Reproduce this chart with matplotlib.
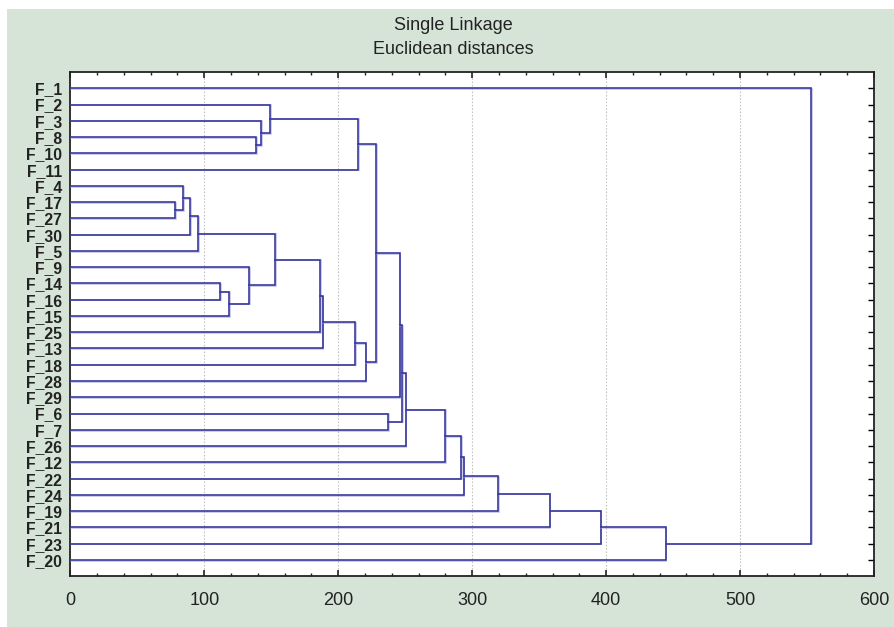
import matplotlib
matplotlib.use("Agg")
import matplotlib.pyplot as plt
import matplotlib.patheffects as pe
from matplotlib.patches import Rectangle
from matplotlib.ticker import MultipleLocator

plt.rcParams['font.family'] = ['Liberation Sans', 'DejaVu Sans']

# leaf order (top to bottom)
leaves = ["F_1", "F_2", "F_3", "F_8", "F_10", "F_11", "F_4", "F_17", "F_27", "F_30",
          "F_5", "F_9", "F_14", "F_16", "F_15", "F_25", "F_13", "F_18", "F_28", "F_29",
          "F_6", "F_7", "F_26", "F_12", "F_22", "F_24", "F_19", "F_21", "F_23", "F_20"]

# merges: left child, right child, linkage distance, new cluster name
merge_left = ["F_8", "F_3", "F_2", "C", "F_17", "F_4", "G", "H", "F_14", "J",
              "F_9", "I", "M", "N", "O", "P", "D", "R", "F_6", "S",
              "U", "V", "W", "X", "Y", "Z", "AA", "AB", "F_1"]
merge_right = ["F_10", "A", "B", "F_11", "F_27", "E", "F_30", "F_5", "F_16", "F_15",
               "K", "L", "F_25", "F_13", "F_18", "F_28", "Q", "F_29", "F_7", "T",
               "F_26", "F_12", "F_22", "F_24", "F_19", "F_21", "F_23", "F_20", "AC"]
merge_height = [138.5, 142.5, 149.2, 214.7, 78.2, 84.2, 89.7, 95.2, 112.1, 118.6,
                133.3, 152.7, 186.5, 188.5, 212.5, 220.4, 228.1, 245.8, 237.1, 247.8,
                250.3, 280.0, 291.9, 293.6, 319.6, 357.9, 396.0, 444.5, 552.9]
merge_name = ["A", "B", "C", "D", "E", "G", "H", "I", "J", "K",
              "L", "M", "N", "O", "P", "Q", "R", "S", "T", "U",
              "V", "W", "X", "Y", "Z", "AA", "AB", "AC", "ROOT"]

title_lines = ["Single Linkage", "Euclidean distances"]
x_ticks = [0, 100, 200, 300, 400, 500, 600]

W, H = 894, 627
fig = plt.figure(figsize=(W / 100, H / 100), dpi=100)
fig.patch.set_facecolor("white")
bg = "#d6e4d8"
fig.patches.append(Rectangle((7 / W, 0), 1 - 7 / W, 1 - 9 / H, transform=fig.transFigure,
                             facecolor=bg, edgecolor="none", zorder=-10))

ax = fig.add_axes([70.3 / W, 1 - 575.7 / H, 803.7 / W, 503.7 / H])
ax.set_zorder(1)
ax.set_facecolor("white")

pos = {name: i for i, name in enumerate(leaves)}
hgt = {name: 0.0 for name in leaves}
line_color = "#33339a"
effects = [pe.SimpleLineShadow(offset=(0.5, -0.5), shadow_color="#9a9ad6", alpha=0.6),
           pe.Normal()]
for l, r, h, n in zip(merge_left, merge_right, merge_height, merge_name):
    yl, yr = pos[l], pos[r]
    ax.plot([hgt[l], h, h, hgt[r]], [yl, yl, yr, yr], color=line_color, lw=1.15,
            solid_joinstyle="miter", path_effects=effects, zorder=3)
    pos[n] = (yl + yr) / 2
    hgt[n] = h

ax.set_xlim(0, 600)
ax.set_ylim(29.97, -1.0)
ax.set_yticks(range(len(leaves)))
ax.set_yticklabels(leaves, fontweight="bold", fontsize=11.3, color="#222222")
ax.set_xticks(x_ticks)
ax.set_xticklabels([str(v) for v in x_ticks], fontsize=13, color="#222222")
ax.xaxis.set_minor_locator(MultipleLocator(20))
ax.tick_params(axis="x", which="major", direction="in", length=4, width=1.2,
               top=True, bottom=True, pad=12, colors="#222222")
ax.tick_params(axis="x", which="minor", direction="in", length=2, width=1,
               top=True, bottom=True, colors="#222222")
ax.tick_params(axis="y", which="major", direction="in", length=4, width=1,
               left=False, right=True, pad=6)
for s in ax.spines.values():
    s.set_color("#222222")
    s.set_linewidth(1.3)

for v in x_ticks[1:-1]:
    ax.axvline(v, color="#c4c4c4", lw=0.8, ls=(0, (1.5, 1.5)), zorder=1)

fig.text(453 / W, 1 - 25.5 / H, title_lines[0], ha="center", va="center", fontsize=13, color="#222222")
fig.text(453 / W, 1 - 50 / H, title_lines[1], ha="center", va="center", fontsize=13, color="#222222")

fig.savefig("out.png", dpi=100, facecolor=fig.get_facecolor())
